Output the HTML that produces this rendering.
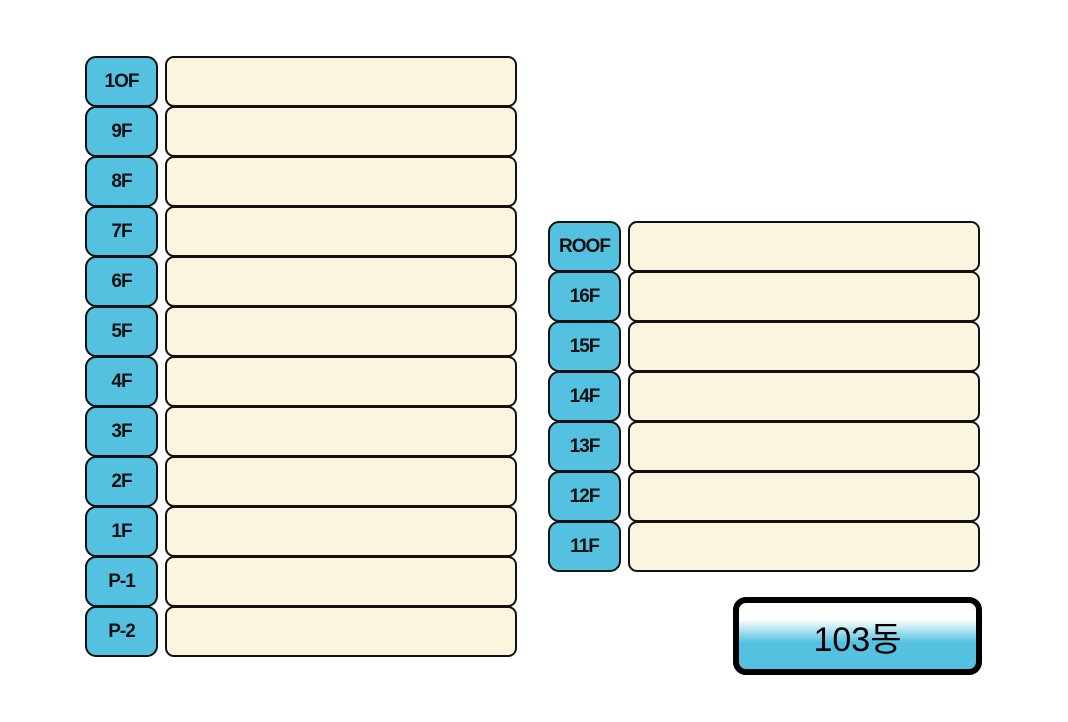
<!DOCTYPE html>
<html><head><meta charset="utf-8"><style>
body{margin:0;width:1068px;height:722px;background:#fff;position:relative;font-family:"Liberation Sans","Noto Sans CJK KR",sans-serif;overflow:hidden}
.l{position:absolute;width:69px;height:47px;background:#55c1e1;border:2px solid #111;border-radius:11px;display:flex;align-items:center;justify-content:center;font-size:19px;font-weight:bold;letter-spacing:-1px;color:#111;box-sizing:content-box}
.b{position:absolute;width:348px;height:47px;background:#fbf5df;border:2px solid #111;border-radius:9px}
.badge{position:absolute;left:733px;top:597px;width:237px;height:66px;border:6px solid #000;border-radius:13px;background:linear-gradient(#fff 0%,#fff 25%,#55c1e1 60%,#55c1e1 100%);display:flex;align-items:center;justify-content:center;font-size:34px;color:#000}
</style></head><body>
<div class="l" style="left:85px;top:56px">1OF</div><div class="b" style="left:165px;top:56px"></div>
<div class="l" style="left:85px;top:106px">9F</div><div class="b" style="left:165px;top:106px"></div>
<div class="l" style="left:85px;top:156px">8F</div><div class="b" style="left:165px;top:156px"></div>
<div class="l" style="left:85px;top:206px">7F</div><div class="b" style="left:165px;top:206px"></div>
<div class="l" style="left:85px;top:256px">6F</div><div class="b" style="left:165px;top:256px"></div>
<div class="l" style="left:85px;top:306px">5F</div><div class="b" style="left:165px;top:306px"></div>
<div class="l" style="left:85px;top:356px">4F</div><div class="b" style="left:165px;top:356px"></div>
<div class="l" style="left:85px;top:406px">3F</div><div class="b" style="left:165px;top:406px"></div>
<div class="l" style="left:85px;top:456px">2F</div><div class="b" style="left:165px;top:456px"></div>
<div class="l" style="left:85px;top:506px">1F</div><div class="b" style="left:165px;top:506px"></div>
<div class="l" style="left:85px;top:556px">P-1</div><div class="b" style="left:165px;top:556px"></div>
<div class="l" style="left:85px;top:606px">P-2</div><div class="b" style="left:165px;top:606px"></div>

<div class="l" style="left:548px;top:221px">ROOF</div><div class="b" style="left:628px;top:221px"></div>
<div class="l" style="left:548px;top:271px">16F</div><div class="b" style="left:628px;top:271px"></div>
<div class="l" style="left:548px;top:321px">15F</div><div class="b" style="left:628px;top:321px"></div>
<div class="l" style="left:548px;top:371px">14F</div><div class="b" style="left:628px;top:371px"></div>
<div class="l" style="left:548px;top:421px">13F</div><div class="b" style="left:628px;top:421px"></div>
<div class="l" style="left:548px;top:471px">12F</div><div class="b" style="left:628px;top:471px"></div>
<div class="l" style="left:548px;top:521px">11F</div><div class="b" style="left:628px;top:521px"></div>

<div class="badge">103동</div>
</body></html>
